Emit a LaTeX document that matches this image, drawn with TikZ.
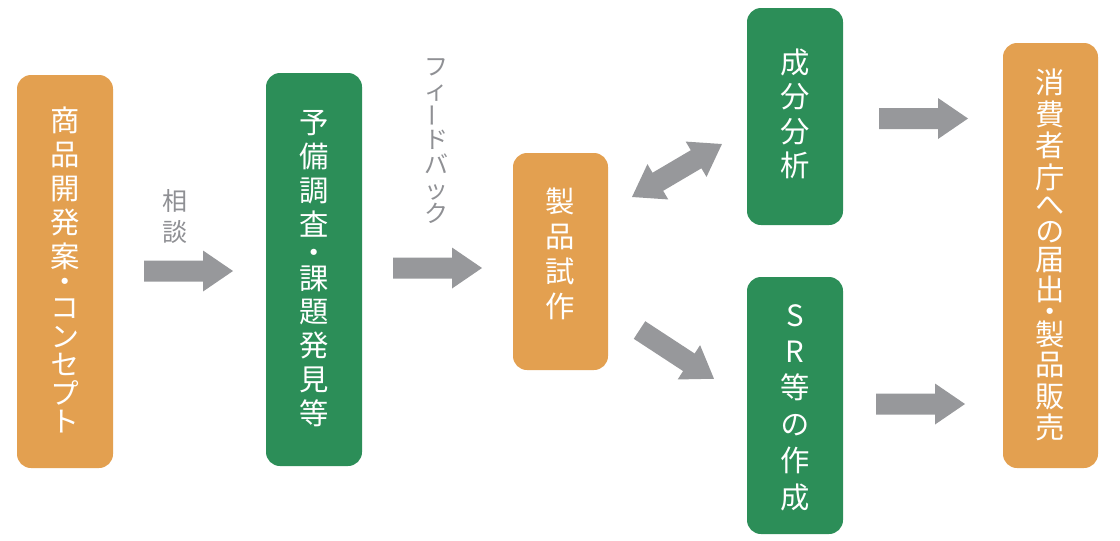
\documentclass[tikz,border=0pt]{standalone}
\usepackage{fontspec}
\usepackage{graphicx}
\newfontfamily\jp{Noto Sans CJK JP}
\newfontfamily\jpv[RawFeature=+vert]{Noto Sans CJK JP}
\definecolor{boxorange}{HTML}{E3A050}
\definecolor{boxgreen}{HTML}{2C8E58}
\definecolor{arrowgray}{HTML}{97989B}
\definecolor{labelgray}{HTML}{8F9094}
\tikzset{
  box/.style={rounded corners=10.5pt, inner sep=0pt, draw=none, minimum width=72pt},
  orangebox/.style={box, fill=boxorange},
  greenbox/.style={box, fill=boxgreen},
  vtext/.style={text=white, align=center, inner sep=0pt,
    font={\jpv\fontsize{22pt}{#1}\selectfont\lineskiplimit=-50pt\lineskip=0pt\relax}},
  graylabel/.style={text=labelgray, align=center, inner sep=0pt},
  blockarrow/.pic={\fill[arrowgray] (0,-10.5) -- (59,-10.5) -- (59,-20.5) -- (89,0)
      -- (59,20.5) -- (59,10.5) -- (0,10.5) -- cycle;},
  dblarrow/.pic={\fill[arrowgray] (0,0) -- (30,20.5) -- (30,10.5) -- (74.4,10.5)
      -- (74.4,20.5) -- (104.4,0) -- (74.4,-20.5) -- (74.4,-10.5) -- (30,-10.5)
      -- (30,-20.5) -- cycle;}
}
\begin{document}
\begin{tikzpicture}[x=0.75pt,y=-0.75pt]
\useasboundingbox (0,0) rectangle (1120,540);
% boxes
\node[orangebox, minimum height=294.75pt] (b1) at (65,271.5) {};
\node[greenbox, minimum height=294.75pt] (b2) at (314,269.5) {};
\node[orangebox, minimum width=71.25pt, minimum height=162.75pt] (b3) at (560.5,261.5) {};
\node[greenbox, minimum height=162.75pt] (b4) at (795,116.5) {};
\node[greenbox, minimum height=192.75pt] (b5) at (795,405.5) {};
\node[orangebox, minimum width=71.25pt, minimum height=318.75pt] (b6) at (1050.5,255.5) {};
% box texts
\node[vtext=25.5pt] (t1) at (65,270) {商\\品\\開\\発\\案\\[-6.75pt]・\\[-6pt]コ\\[-4.1pt]ン\\[-4.1pt]セ\\[-4.1pt]プ\\[-4.1pt]ト};
\node[vtext=25.3pt] (t2) at (314,268.5) {予\\備\\調\\査\\[-4.3pt]・\\[-5.8pt]課\\題\\発\\見\\等};
\node[vtext=26.25pt] (t3) at (560.5,254) {製\\品\\試\\作};
\node[vtext=25.9pt] (t4) at (795,114) {成\\分\\分\\析};
\node[vtext=27.3pt] (t5) at (795,407.5) {S\\R\\等\\の\\作\\成};
\node[vtext=23.25pt] (t6) at (1050.5,255) {消\\[0.375pt]費\\[0.375pt]者\\[0.375pt]庁\\[-3pt]へ\\[-3pt]の\\[-2.25pt]届\\[-0.75pt]出\\[-6.75pt]・\\[-6pt]製\\[-0.75pt]品\\[0.75pt]販\\売};
% labels
\node[graylabel, font={\jp\fontsize{18.75pt}{22.9pt}\selectfont}] (l1) at (175,216.5) {相\\談};
\node[graylabel, font={\jp\fontsize{18pt}{18.4pt}\selectfont\lineskiplimit=-50pt\lineskip=0pt\relax}] (l2) at (436,141) {フ\\ィ\\\raisebox{-0.12em}{\rotatebox{90}{ー}}\\ド\\バ\\ッ\\ク};
% arrow anchors
\coordinate (a1) at (144,271);
\coordinate (a2) at (393,268);
\coordinate (a3) at (879,118.5);
\coordinate (a4) at (876,404);
\coordinate (a5) at (639.5,330);
\coordinate (a6) at (632,197);
\pic at (a1) {blockarrow};
\pic at (a2) {blockarrow};
\pic at (a3) {blockarrow};
\pic at (a4) {blockarrow};
\pic[rotate=-33.2] at (a5) {blockarrow};
\pic[rotate=30.5] at (a6) {dblarrow};
\end{tikzpicture}
\end{document}
